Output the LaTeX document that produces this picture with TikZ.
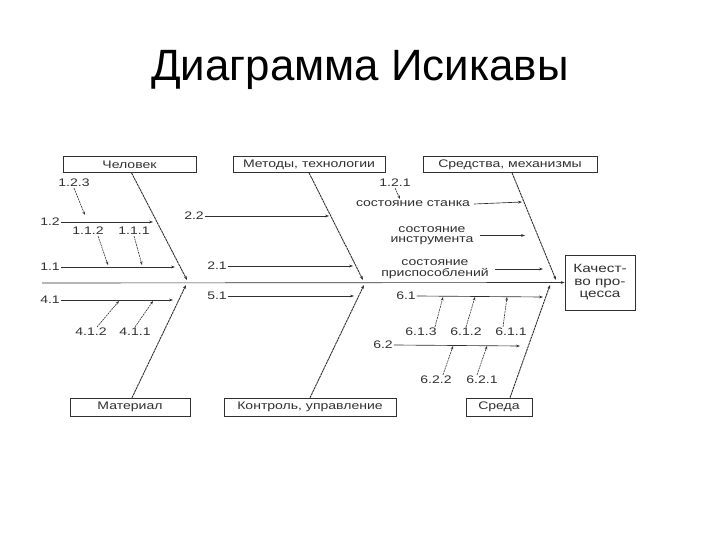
\documentclass[tikz,border=0pt]{standalone}
\usepackage{fontspec}
\setmainfont{Liberation Sans}
\newfontfamily\diagfont[FakeStretch=1.28]{Liberation Sans}
\newcommand{\dfont}{\diagfont\fontsize{11}{10.5}\selectfont}
\usetikzlibrary{arrows.meta,positioning}
\definecolor{inkgray}{HTML}{303030}

\tikzset{
  cause/.style={draw=inkgray, line width=0.6bp, minimum height=16bp, inner sep=0pt, font=\dfont, text=inkgray},
  lbl/.style={font=\dfont, text=inkgray, inner sep=1bp, align=center},
  bone/.style={draw=inkgray, line width=0.9bp, dash pattern=on 2.5bp off 0.6bp, -{Stealth[length=4bp,width=2.8bp]}},
  sub/.style={draw=inkgray, line width=0.65bp, -{Stealth[length=4bp,width=2.8bp]}},
  subsub/.style={draw=inkgray, line width=0.6bp, dash pattern=on 2bp off 0.8bp, -{Stealth[length=3.5bp,width=2.6bp]}},
}

\begin{document}
\begin{tikzpicture}[x=1bp, y=-1bp]
 \useasboundingbox (0,0) rectangle (720,540);
 \node[font=\fontsize{44}{50}\selectfont] (title) at (360,70) {Диаграмма Исикавы};

 \node[cause, minimum width=133bp] (chel) at (129.5,164.5) {Человек};
 \node[cause, minimum width=152bp] (metod) at (309,164.5) {Методы, технологии};
 \node[cause, minimum width=174bp] (sredstva) at (510,164.5) {Средства, механизмы};
 \node[cause, minimum width=120bp, minimum height=18bp] (mater) at (130,407) {Материал};
 \node[cause, minimum width=172bp, minimum height=18bp] (kontrol) at (310,407) {Контроль, управление};
 \node[cause, minimum width=66bp, minimum height=18bp] (sreda) at (499,407) {Среда};
 \node[cause, minimum width=70bp, minimum height=55bp, align=center,
       font=\diagfont\fontsize{12}{12.5}\selectfont] (result) at (600,282.5) {Качест-\\во про-\\цесса};

 \coordinate (tail) at (42,283);
 \draw[sub] (tail) -- (result.west);

 \coordinate (jchel) at (187,280);
 \coordinate (jmater) at (186,285);
 \coordinate (jmetod) at (363,280);
 \coordinate (jkontrol) at (364,285);
 \coordinate (jsredstva) at (556,280);
 \coordinate (jsreda) at (550,285);
 \draw[bone] ([xshift=2bp]chel.south) -- (jchel);
 \draw[bone] ([xshift=2bp]mater.north) -- (jmater);
 \draw[bone] (metod.south) -- (jmetod);
 \draw[bone] (kontrol.north) -- (jkontrol);
 \draw[bone] ([xshift=2bp]sredstva.south) -- (jsredstva);
 \draw[bone] ([xshift=11bp]sreda.north) -- (jsreda);

 % Человек
 \node[lbl] (l12) at (50,222) {1.2};
 \node[lbl] (l11) at (50,267) {1.1};
 \node[lbl] (l123) at (74,183) {1.2.3};
 \node[lbl] (l112) at (88,231) {1.1.2};
 \node[lbl] (l111) at (134,231) {1.1.1};
 \coordinate (h12) at (153,222);
 \coordinate (h11) at (175,267);
 \coordinate (h123) at (85,215);
 \coordinate (h112) at (108,265);
 \coordinate (h111) at (142,265);
 \draw[sub] (l12.east) -- (h12);
 \draw[sub] (l11.east) -- (h11);
 \draw[subsub] (l123.south) -- (h123);
 \draw[subsub] ([xshift=10bp]l112.south) -- (h112);
 \draw[subsub] (l111.south) -- (h111);

 % Материал
 \node[lbl] (l41) at (50,300) {4.1};
 \node[lbl] (l412) at (91,332) {4.1.2};
 \node[lbl] (l411) at (135,332) {4.1.1};
 \coordinate (h41) at (173,300);
 \coordinate (h412) at (119,301);
 \coordinate (h411) at (153,301);
 \draw[sub] (l41.east) -- (h41);
 \draw[subsub] ([xshift=6bp]l412.north) -- (h412);
 \draw[subsub] (l411.north) -- (h411);

 % Методы и контроль
 \node[lbl] (l22) at (194,216) {2.2};
 \node[lbl] (l21) at (217,266) {2.1};
 \node[lbl] (l51) at (217,296) {5.1};
 \coordinate (h22) at (329,216);
 \coordinate (h21) at (353,266);
 \coordinate (h51) at (354,296);
 \draw[sub] (l22.east) -- (h22);
 \draw[sub] (l21.east) -- (h21);
 \draw[sub] (l51.east) -- (h51);

 % Средства
 \node[lbl] (l121) at (395,183) {1.2.1};
 \node[lbl] (stanok) at (413,204) {состояние станка};
 \node[lbl] (instr) at (432,235.5) {состояние\\инструмента};
 \node[lbl] (prisp) at (435,269) {состояние\\приспособлений};
 \coordinate (h121) at (400,199);
 \coordinate (hstanok) at (522,202);
 \coordinate (hinstr) at (525,235.5);
 \coordinate (hprisp) at (543,269);
 \draw[subsub] (l121.south) -- (h121);
 \draw[sub] ([xshift=3bp]stanok.east) -- (hstanok);
 \draw[sub] ([xshift=5bp]instr.east) -- (hinstr);
 \draw[sub] ([xshift=5bp]prisp.east) -- (hprisp);

 % Среда
 \node[lbl] (l61) at (406,296) {6.1};
 \node[lbl] (l62) at (383,345) {6.2};
 \node[lbl] (l613) at (421,332) {6.1.3};
 \node[lbl] (l612) at (466,332) {6.1.2};
 \node[lbl] (l611) at (511,332) {6.1.1};
 \node[lbl] (l622) at (436,380) {6.2.2};
 \node[lbl] (l621) at (482,380) {6.2.1};
 \coordinate (h61) at (543,297);
 \coordinate (h62) at (520,346);
 \coordinate (h613) at (443,297);
 \coordinate (h612) at (475,297);
 \coordinate (h611) at (507,297);
 \coordinate (h622) at (453,346);
 \coordinate (h621) at (487,346);
 \draw[sub] (l61.east) -- (h61);
 \draw[sub] (l62.east) -- (h62);
 \draw[subsub] ([xshift=14bp]l613.north) -- (h613);
 \draw[subsub] (l612.north) -- (h612);
 \draw[subsub] ([xshift=-8bp]l611.north) -- (h611);
 \draw[subsub] ([xshift=7bp]l622.north) -- (h622);
 \draw[subsub] ([xshift=-5bp]l621.north) -- (h621);
\end{tikzpicture}
\end{document}
